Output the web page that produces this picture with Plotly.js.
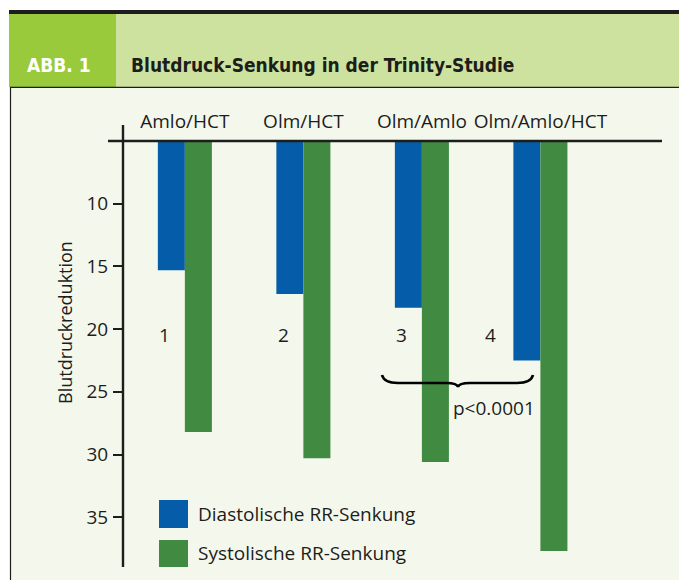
<!DOCTYPE html>
<html><head><meta charset="utf-8">
<script src="https://cdn.plot.ly/plotly-3.0.1.min.js"></script>
<style>html,body{margin:0;padding:0;background:#fff;} #chart{width:679px;height:580px;}</style>
</head><body><div id="chart"></div>
<script>
// ---- data ----
const categories = ["Amlo/HCT", "Olm/HCT", "Olm/Amlo", "Olm/Amlo/HCT"];
const groupNumbers = ["1", "2", "3", "4"];
const seriesNames = ["Diastolische RR-Senkung", "Systolische RR-Senkung"];
const diastolic = [15.3, 17.2, 18.3, 22.5];
const systolic = [28.2, 30.3, 30.6, 37.7];
const yTicks = [10, 15, 20, 25, 30, 35];
const pLabel = "p<0.0001";
const headerTag = "ABB. 1";
const headerTitle = "Blutdruck-Senkung in der Trinity-Studie";
const yTitle = "Blutdruckreduktion";

// ---- layout helpers ----
const W = 679, H = 580, M = {l: 123, r: 17, t: 141, b: 13};
const PX = px => (px - M.l) / (W - M.l - M.r);
const PY = py => (H - M.b - py) / (H - M.t - M.b);
const INK = '#1d1d1b';
const FONT = 'Open Sans, Noto Sans, sans-serif';
const HFONT = 'Liberation Sans Narrow, DejaVu Sans Condensed, sans-serif';
const BLUE = '#055ca8', GREEN = '#418a42';

function rect(x0, y0, x1, y1, fill, layer) {
  return {type: 'rect', xref: 'paper', yref: 'paper', x0: PX(x0), x1: PX(x1), y0: PY(y1), y1: PY(y0),
          fillcolor: fill, line: {width: 0}, layer: layer || 'above'};
}
function line(x0, y0, x1, y1, w, c) {
  return {type: 'line', xref: 'paper', yref: 'paper', x0: PX(x0), x1: PX(x1), y0: PY(y0), y1: PY(y1),
          line: {width: w, color: c || INK}, layer: 'above'};
}
function P(x, y) { return PX(x).toFixed(5) + ',' + PY(y).toFixed(5); }

// brace path (pixel geometry converted to paper)
const bL = 382, bR = 533, bC = 458, bTop = 375, bMid = 383, bBot = 387;
const bracePath = 'M' + P(bL, bTop) + ' Q' + P(bL + 2, bMid) + ' ' + P(bL + 16, bMid) +
  ' L' + P(bC - 12, bMid) + ' Q' + P(bC - 1, bMid) + ' ' + P(bC, bBot) +
  ' Q' + P(bC + 1, bMid) + ' ' + P(bC + 12, bMid) +
  ' L' + P(bR - 16, bMid) + ' Q' + P(bR - 2, bMid) + ' ' + P(bR, bTop);

const traces = [
  {type: 'bar', name: seriesNames[0], x: categories, y: diastolic, marker: {color: BLUE, line: {width: 0}},
   showlegend: false, hoverinfo: 'x+y'},
  {type: 'bar', name: seriesNames[1], x: categories, y: systolic, marker: {color: GREEN, line: {width: 0}},
   showlegend: false, hoverinfo: 'x+y'}
];

const numberX = [-0.17, 0.83, 1.83, 2.575];
const annotations = [];
groupNumbers.forEach((t, i) => annotations.push({
  text: t, x: numberX[i], y: 20.45, xref: 'x', yref: 'y', showarrow: false,
  font: {family: FONT, size: 19, color: INK}, xanchor: 'center', yanchor: 'middle'}));
annotations.push({text: pLabel, x: 2.608, y: 26.3, xref: 'x', yref: 'y', showarrow: false,
  font: {family: FONT, size: 19, color: INK}, xanchor: 'center', yanchor: 'middle'});
annotations.push({text: yTitle, textangle: -90, xref: 'paper', yref: 'paper', x: PX(65), y: PY(323),
  showarrow: false, font: {family: FONT, size: 18, color: INK}, xanchor: 'center', yanchor: 'middle'});
// legend labels
annotations.push({text: seriesNames[0], xref: 'paper', yref: 'paper', x: PX(196), y: PY(513.5),
  showarrow: false, font: {family: FONT, size: 19, color: INK}, xanchor: 'left', yanchor: 'middle'});
annotations.push({text: seriesNames[1], xref: 'paper', yref: 'paper', x: PX(196), y: PY(553),
  showarrow: false, font: {family: FONT, size: 19, color: INK}, xanchor: 'left', yanchor: 'middle'});
// header texts
annotations.push({text: '<b>' + headerTag + '</b>', xref: 'paper', yref: 'paper', x: PX(25), y: PY(65),
  showarrow: false, font: {family: HFONT, size: 19, color: '#ffffff'}, xanchor: 'left', yanchor: 'middle'});
annotations.push({text: '<b>' + headerTitle + '</b>', xref: 'paper', yref: 'paper', x: PX(129), y: PY(65),
  showarrow: false, font: {family: HFONT, size: 19, color: INK}, xanchor: 'left', yanchor: 'middle'});

const shapes = [
  rect(10, 87, 679, 580, '#f4f8ec', 'below'),
  rect(9, 10, 679, 14, '#1e1c1e'),
  rect(9, 14, 116, 87, '#99ca3c'),
  rect(116, 14, 679, 87, '#cee29f'),
  line(10, 87.3, 679, 87.3, 1.2),
  line(10.5, 87, 10.5, 580, 1.2),
  // axis lines
  line(108, 141, 662, 141, 2.4),
  line(123, 125, 123, 567, 2.4),
  // legend swatches
  rect(159, 500, 188, 528, BLUE),
  rect(159, 540, 188, 567, GREEN),
  {type: 'path', xref: 'paper', yref: 'paper', path: bracePath, line: {color: '#000', width: 2.6}, layer: 'above'}
];

const layout = {
  width: W, height: H, margin: M,
  paper_bgcolor: '#ffffff', plot_bgcolor: 'rgba(0,0,0,0)',
  barmode: 'group', bargap: 0.544, bargroupgap: 0,
  showlegend: false,
  xaxis: {type: 'category', side: 'top', range: [-0.522, 4.026], showline: false, showgrid: false,
          zeroline: false, ticks: '', tickfont: {family: FONT, size: 19, color: INK}, ticklabelstandoff: 8,
          fixedrange: true},
  yaxis: {range: [38.97, 5], tickvals: yTicks, ticks: 'outside', ticklen: 9, tickwidth: 2, tickcolor: INK,
          showline: false, showgrid: false, zeroline: false, tickfont: {family: FONT, size: 19, color: INK},
          ticklabelstandoff: 1, fixedrange: true},
  shapes: shapes,
  annotations: annotations,
  font: {family: FONT, color: INK}
};

Plotly.newPlot('chart', traces, layout, {displayModeBar: false, staticPlot: true});
</script>
</body></html>
